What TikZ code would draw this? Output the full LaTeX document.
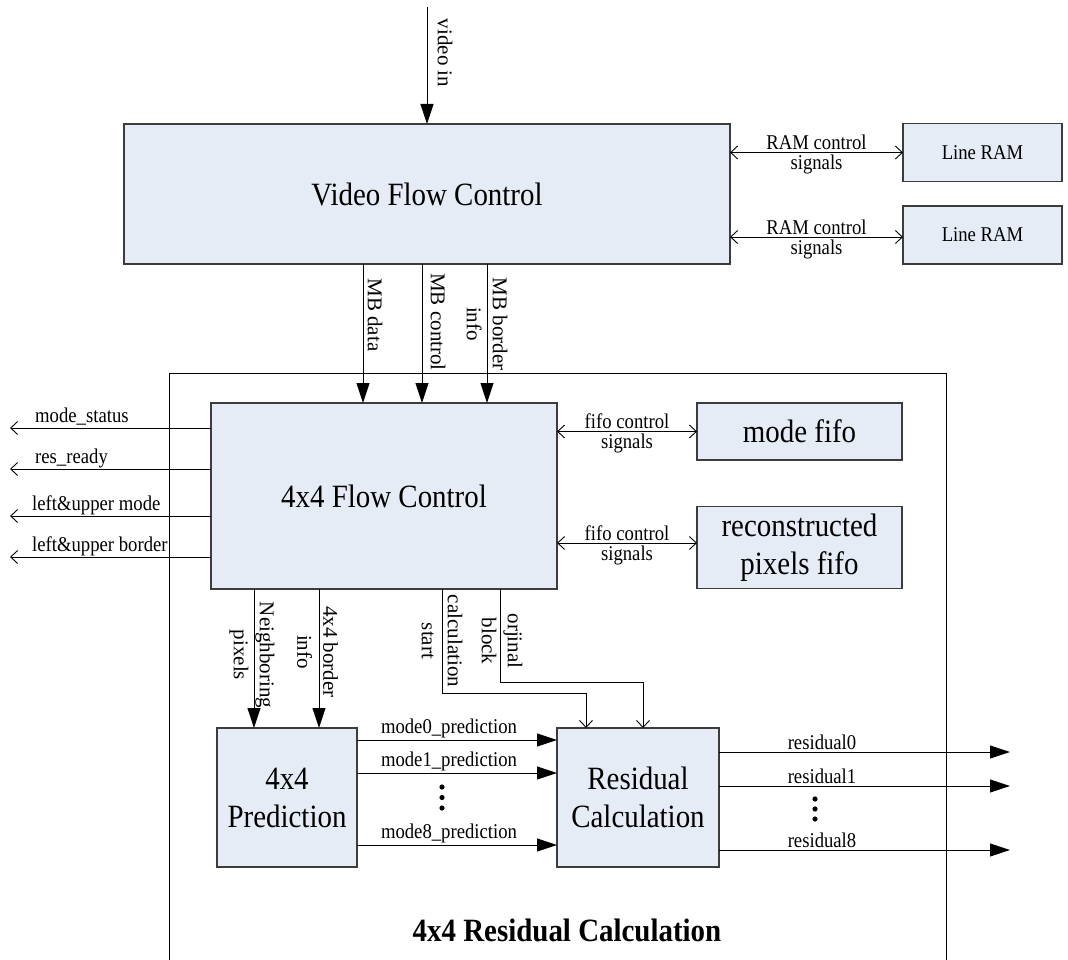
\documentclass[tikz,border=0pt]{standalone}
\usepackage{fontspec}
\setmainfont[FakeStretch=0.89]{Liberation Serif}
\newfontfamily\uprightserif{Liberation Serif}
\usetikzlibrary{arrows.meta,calc}

\definecolor{blockfill}{RGB}{230,236,246}
\definecolor{blockline}{RGB}{60,60,60}

\newcommand\blkfont{\fontsize{32.5}{38}\selectfont}
\newcommand\lblfont{\fontsize{21}{24}\selectfont}
\newcommand\vlblfont{\uprightserif\fontsize{21}{26}\selectfont}
\newcommand\titlefont{\bfseries\fontsize{32.5}{38}\selectfont}

\tikzset{
  blk/.style={draw=blockline, fill=blockfill, line width=1.1pt, inner sep=0pt,
              outer sep=0pt, align=center, font=\blkfont},
  wire/.style={line width=0.9pt},
  tri/.style={wire, -{Triangle[length=20pt,width=13pt]}},
  barb/.style={wire, -{Straight Barb[length=7pt,width=13pt]}},
  dbl/.style={wire, {Straight Barb[length=7pt,width=13pt]}-{Straight Barb[length=7pt,width=13pt]}},
  lbl/.style={font=\lblfont, inner sep=1pt},
  vlbl/.style={font=\vlblfont, rotate=-90, align=center, inner sep=0pt},
  dot/.style={fill=black},
}

\begin{document}
\begin{tikzpicture}[x=1pt, y=-1pt]
\useasboundingbox (0,0) rectangle (1068,960);

% container of the residual stage
\draw[line width=1pt] (169,962) -- (169,373) -- (946,373) -- (946,962);
\node[font=\titlefont] (title) at (567,930) {4x4 Residual Calculation};

% blocks
\node[blk, minimum width=606pt, minimum height=140pt] (vfc) at (427,194) {Video Flow Control};
\node[blk, minimum width=159pt, minimum height=58pt, font=\lblfont] (ram1) at (982.5,152.5) {Line RAM};
\node[blk, minimum width=159pt, minimum height=58pt, font=\lblfont] (ram2) at (982.5,235) {Line RAM};
\node[blk, minimum width=346pt, minimum height=186pt] (ffc) at (384,496) {4x4 Flow Control};
\node[blk, minimum width=205pt, minimum height=57pt] (mfifo) at (799.5,431.5) {mode fifo};
\node[blk, minimum width=205pt, minimum height=82pt] (rfifo) at (799.5,547.5) {reconstructed\\pixels fifo};
\node[blk, minimum width=140pt, minimum height=139pt] (pred) at (287,797.5) {4x4\\Prediction};
\node[blk, minimum width=162pt, minimum height=139pt] (resc) at (638,797.5) {Residual\\Calculation};

% video input
\coordinate (vin) at (427,7);
\draw[tri] (vin) -- (vfc.north);
\node[vlbl] (vinl) at (445,53) {video in};

% line RAM interfaces
\draw[dbl] (vfc.east |- ram1.west) -- node[lbl, above=1pt] {RAM control} node[lbl, below=1pt] {signals} (ram1.west);
\draw[dbl] ([yshift=-2pt]ram2.west -| vfc.east) -- node[lbl, above=1pt] {RAM control} node[lbl, below=1pt] {signals} ([yshift=-2pt]ram2.west);

% macroblock signals
\draw[tri] ([xshift=-64pt]vfc.south) -- ([xshift=-64pt]vfc.south |- ffc.north);
\draw[tri] ([xshift=-5pt]vfc.south) -- ([xshift=-5pt]vfc.south |- ffc.north);
\draw[tri] ([xshift=60pt]vfc.south) -- ([xshift=60pt]vfc.south |- ffc.north);
\node[vlbl] (mbd) at (375,315) {MB data};
\node[vlbl] (mbc) at (438,322) {MB control};
\node[vlbl] (mbb) at (487,324) {MB border\\info};

% status outputs
\coordinate (o1) at (10,428);
\coordinate (o2) at (10,469);
\coordinate (o3) at (10,516);
\coordinate (o4) at (10,557);
\draw[barb] (ffc.west |- o1) -- (o1);
\draw[barb] (ffc.west |- o2) -- (o2);
\draw[barb] (ffc.west |- o3) -- (o3);
\draw[barb] (ffc.west |- o4) -- (o4);
\node[lbl, anchor=base west, inner sep=0pt] (o1l) at ($(o1)+(25,-6)$) {mode\_status};
\node[lbl, anchor=base west, inner sep=0pt] (o2l) at ($(o2)+(25,-6)$) {res\_ready};
\node[lbl, anchor=base west, inner sep=0pt] (o3l) at ($(o3)+(22,-6)$) {left\&upper mode};
\node[lbl, anchor=base west, inner sep=0pt] (o4l) at ($(o4)+(22,-6)$) {left\&upper border};

% fifo interfaces
\draw[dbl] (ffc.east |- mfifo.west) -- node[lbl, above=1pt] {fifo control} node[lbl, below=1pt] {signals} (mfifo.west);
\draw[dbl] ([yshift=4.5pt]rfifo.west -| ffc.east) -- node[lbl, above=1pt] {fifo control} node[lbl, below=1pt] {signals} ([yshift=4.5pt]rfifo.west);

% prediction inputs
\draw[tri] ([xshift=-130pt]ffc.south) -- ([xshift=-130pt]ffc.south |- pred.north);
\draw[tri] ([xshift=-65pt]ffc.south) -- ([xshift=-65pt]ffc.south |- pred.north);
\node[vlbl] (npl) at (252,655) {Neighboring\\pixels};
\node[vlbl] (bil) at (317.5,652) {4x4 border\\info};

% residual calculation controls
\draw[barb] ([xshift=58pt]ffc.south) -- ++(0,104) -| ([xshift=-52pt]resc.north);
\draw[barb] ([xshift=116pt]ffc.south) -- ++(0,93) -| ([xshift=5pt]resc.north);
\node[vlbl] (csl) at (442,641) {calculation\\start};
\node[vlbl] (obl) at (502,641) {orjinal\\block};

% mode predictions
\draw[tri] ([yshift=57.5pt]pred.east) -- node[lbl, above=1pt, pos=0.46] {mode0\_prediction} ([yshift=57.5pt]pred.east -| resc.west);
\draw[tri] ([yshift=24.5pt]pred.east) -- node[lbl, above=1pt, pos=0.46] {mode1\_prediction} ([yshift=24.5pt]pred.east -| resc.west);
\draw[tri] ([yshift=-47.5pt]pred.east) -- node[lbl, above=1pt, pos=0.46] {mode8\_prediction} ([yshift=-47.5pt]pred.east -| resc.west);
\fill[dot] (442,787) circle (2.6pt);
\fill[dot] (442,797.5) circle (2.6pt);
\fill[dot] (442,808) circle (2.6pt);

% residual outputs
\coordinate (r0) at (1010,752);
\coordinate (r1) at (1010,786);
\coordinate (r8) at (1010,850);
\draw[tri] (resc.east |- r0) -- node[lbl, above=1pt, pos=0.354] {residual0} (r0);
\draw[tri] (resc.east |- r1) -- node[lbl, above=1pt, pos=0.354] {residual1} (r1);
\draw[tri] (resc.east |- r8) -- node[lbl, above=1pt, pos=0.354] {residual8} (r8);
\fill[dot] (815,799) circle (2.6pt);
\fill[dot] (815,809) circle (2.6pt);
\fill[dot] (815,819) circle (2.6pt);
\end{tikzpicture}
\end{document}
